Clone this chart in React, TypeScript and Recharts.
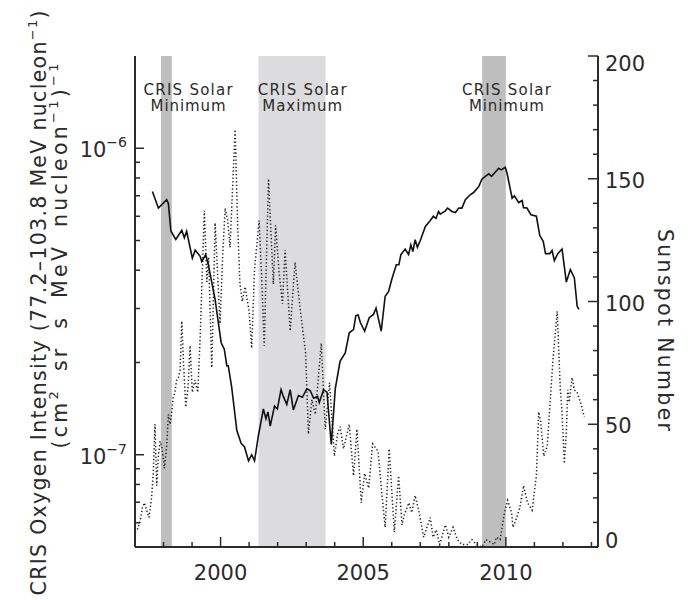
import React from 'react';
import { ComposedChart, Line, XAxis, YAxis, ReferenceArea, ReferenceLine } from 'recharts';

// CRIS oxygen intensity (solid, left log axis)
const FLUX_YEARS = [
  1997.61, 1997.82, 1998.11, 1998.17, 1998.26, 1998.43, 1998.64, 1998.73, 1998.81, 1999.01,
  1999.11, 1999.28, 1999.34, 1999.48, 1999.57, 1999.81, 2000.02, 2000.13, 2000.22, 2000.27,
  2000.39, 2000.57, 2000.72, 2000.84, 2000.98, 2001.09, 2001.19, 2001.33, 2001.5, 2001.59,
  2001.66, 2001.74, 2001.89, 2001.99, 2002.12, 2002.2, 2002.32, 2002.44, 2002.55, 2002.73,
  2002.87, 2003.02, 2003.14, 2003.26, 2003.4, 2003.46, 2003.61, 2003.73, 2003.88, 2004.02,
  2004.19, 2004.37, 2004.51, 2004.66, 2004.74, 2004.82, 2004.9, 2005.05, 2005.21, 2005.36,
  2005.45, 2005.63, 2005.77, 2005.89, 2006.0, 2006.16, 2006.25, 2006.32, 2006.47, 2006.59,
  2006.67, 2006.74, 2006.82, 2006.9, 2007.0, 2007.18, 2007.35, 2007.46, 2007.55, 2007.64,
  2007.7, 2007.88, 2007.96, 2008.11, 2008.23, 2008.35, 2008.46, 2008.58, 2008.75, 2008.87,
  2009.05, 2009.16, 2009.28, 2009.4, 2009.5, 2009.75, 2009.84, 2009.98, 2010.04, 2010.22,
  2010.3, 2010.45, 2010.57, 2010.62, 2010.74, 2010.88, 2011.07, 2011.19, 2011.31, 2011.39,
  2011.54, 2011.62, 2011.7, 2011.82, 2011.97, 2012.12, 2012.26, 2012.4, 2012.5, 2012.56,
];
const FLUX_VALUES = [
  7.23e-7, 6.38e-7, 6.8e-7, 6.6e-7, 5.36e-7, 5.04e-7, 5.4e-7, 5.1e-7, 5.36e-7, 4.38e-7,
  4.65e-7, 4.45e-7, 4.27e-7, 4.5e-7, 4.17e-7, 3.2e-7, 2.32e-7, 2.21e-7, 1.95e-7, 1.95e-7,
  1.66e-7, 1.2e-7, 1.09e-7, 1.06e-7, 9.55e-8, 1.0e-7, 9.55e-8, 1.16e-7, 1.41e-7, 1.31e-7,
  1.38e-7, 1.24e-7, 1.44e-7, 1.41e-7, 1.63e-7, 1.55e-7, 1.46e-7, 1.63e-7, 1.4e-7, 1.56e-7,
  1.54e-7, 1.64e-7, 1.62e-7, 1.53e-7, 1.55e-7, 1.48e-7, 1.63e-7, 1.6e-7, 1.08e-7, 1.64e-7,
  2.02e-7, 2.15e-7, 2.5e-7, 2.56e-7, 2.84e-7, 2.86e-7, 2.7e-7, 2.53e-7, 2.8e-7, 2.87e-7,
  3.01e-7, 2.53e-7, 3.29e-7, 3.41e-7, 3.73e-7, 4.17e-7, 4.17e-7, 4.5e-7, 4.69e-7, 4.5e-7,
  4.84e-7, 4.6e-7, 5.03e-7, 4.75e-7, 5.0e-7, 5.56e-7, 5.81e-7, 6.0e-7, 5.9e-7, 6.22e-7,
  6.1e-7, 6.25e-7, 6.38e-7, 6.22e-7, 6.17e-7, 6.38e-7, 6.38e-7, 6.8e-7, 7.05e-7, 7.17e-7,
  7.5e-7, 7.93e-7, 8.09e-7, 8.25e-7, 8.1e-7, 8.6e-7, 8.5e-7, 8.67e-7, 8.3e-7, 6.87e-7,
  7.0e-7, 6.65e-7, 6.75e-7, 6.4e-7, 6.38e-7, 6.07e-7, 6.0e-7, 5.19e-7, 4.97e-7, 4.53e-7,
  4.53e-7, 4.64e-7, 4.3e-7, 4.53e-7, 4.69e-7, 3.66e-7, 4.02e-7, 3.78e-7, 3.05e-7, 2.98e-7,
];

// monthly sunspot number (dotted, right axis)
const SSN_YEARS = [
  1997.0, 1997.08, 1997.17, 1997.26, 1997.33, 1997.41, 1997.49, 1997.58, 1997.64, 1997.7,
  1997.76, 1997.82, 1997.88, 1997.94, 1998.03, 1998.11, 1998.17, 1998.23, 1998.29, 1998.34,
  1998.4, 1998.46, 1998.52, 1998.58, 1998.64, 1998.7, 1998.78, 1998.86, 1998.93, 1999.01,
  1999.1, 1999.2, 1999.28, 1999.43, 1999.52, 1999.58, 1999.69, 1999.81, 1999.98, 2000.08,
  2000.16, 2000.25, 2000.33, 2000.51, 2000.6, 2000.68, 2000.76, 2000.86, 2001.0, 2001.09,
  2001.19, 2001.35, 2001.44, 2001.53, 2001.68, 2001.85, 2001.93, 2002.05, 2002.17, 2002.26,
  2002.44, 2002.61, 2002.79, 2002.98, 2003.08, 2003.2, 2003.32, 2003.53, 2003.67, 2003.82,
  2003.99, 2004.1, 2004.19, 2004.31, 2004.51, 2004.66, 2004.78, 2004.93, 2005.05, 2005.19,
  2005.33, 2005.52, 2005.65, 2005.77, 2005.91, 2006.09, 2006.24, 2006.36, 2006.44, 2006.6,
  2006.7, 2006.82, 2006.96, 2007.12, 2007.29, 2007.35, 2007.45, 2007.56, 2007.68, 2007.88,
  2008.0, 2008.15, 2008.3, 2008.46, 2008.66, 2008.81, 2008.98, 2009.16, 2009.3, 2009.46,
  2009.6, 2009.67, 2009.8, 2009.95, 2010.06, 2010.2, 2010.25, 2010.38, 2010.49, 2010.62,
  2010.76, 2010.92, 2011.07, 2011.15, 2011.22, 2011.33, 2011.45, 2011.65, 2011.8, 2011.91,
  2011.97, 2012.05, 2012.12, 2012.17, 2012.22, 2012.32, 2012.4, 2012.5, 2012.64, 2012.75,
];
const SSN_VALUES = [
  6, 7, 10, 16, 18, 15, 12, 20, 30, 50,
  25, 37, 43, 41, 32, 41, 54, 50, 55, 61,
  63, 68, 69, 72, 92, 75, 57, 65, 82, 63,
  68, 63, 84, 137, 108, 118, 73, 132, 91, 120,
  138, 133, 122, 170, 130, 107, 100, 106, 96, 81,
  113, 133, 110, 82, 150, 107, 131, 112, 99, 121,
  88, 116, 97, 79, 46, 60, 54, 83, 48, 67,
  37, 46, 49, 40, 50, 29, 48, 18, 30, 24,
  42, 39, 22, 8, 40, 6, 29, 9, 13, 18,
  14, 21, 14, 4, 10, 12, 4, 7, 1, 9,
  4, 8, 3, 1, 1, 3, 1, 0, 3, 2,
  1, 4, 3, 14, 19, 14, 8, 12, 16, 25,
  18, 15, 29, 55, 51, 37, 41, 76, 96, 64,
  55, 34, 47, 64, 59, 69, 64, 63, 58, 53,
];

// shaded CRIS solar minimum / maximum periods
const BAND_STARTS = [1997.91, 2001.33, 2009.17];
const BAND_ENDS = [1998.29, 2003.68, 2010.0];
const BAND_KINDS = ['min', 'max', 'min'];
const BAND_TEXT_YEARS = [1998.86, 2002.86, 2010.02];
const BAND_TEXT_TOP = ['CRIS  Solar', 'CRIS  Solar', 'CRIS  Solar'];
const BAND_TEXT_BOTTOM = ['Minimum', 'Maximum', 'Minimum'];

const YEAR_TICKS = [1998, 1999, 2000, 2001, 2002, 2003, 2004, 2005, 2006, 2007, 2008, 2009, 2010, 2011, 2012, 2013];
const FLUX_TICKS = [
  6e-8, 7e-8, 8e-8, 9e-8, 1e-7, 2e-7, 3e-7, 4e-7, 5e-7, 6e-7, 7e-7, 8e-7, 9e-7, 1e-6,
];
const SSN_TICKS = [0, 10, 20, 30, 40, 50, 60, 70, 80, 90, 100, 110, 120, 130, 140, 150, 160, 170, 180, 190, 200];

const fluxData = FLUX_YEARS.map((year, i) => ({ year, flux: FLUX_VALUES[i] }));
const ssnData = SSN_YEARS.map((year, i) => ({ year, ssn: SSN_VALUES[i] }));

const INK = '#2b2b2b';
const FONT = '"DejaVu Sans", sans-serif';

const BottomTick = ({ x, y, payload }: any) => {
  const major = payload.value % 5 === 0;
  return (
    <g>
      <line x1={x} x2={x} y1={y} y2={y - (major ? 10 : 5)} stroke={INK} strokeWidth={1.5} />
      {major && (
        <text x={x} y={y + 33} textAnchor="middle" fill={INK} fontFamily={FONT} fontSize={21}>
          {payload.value}
        </text>
      )}
    </g>
  );
};

const TopTick = ({ x, y, payload }: any) => {
  const major = payload.value % 5 === 0;
  return <line x1={x} x2={x} y1={y} y2={y + (major ? 10 : 5)} stroke={INK} strokeWidth={1.5} />;
};

const FluxTick = ({ x, y, payload }: any) => {
  const lg = Math.log10(payload.value);
  const exp = Math.round(lg);
  const decade = Math.abs(lg - exp) < 1e-6;
  return (
    <g>
      <line x1={x} x2={x + (decade ? 9 : 5)} y1={y} y2={y} stroke={INK} strokeWidth={1.5} />
      {decade && (
        <text x={x - 8} y={y + 9} textAnchor="end" fill={INK} fontFamily={FONT} fontSize={21}>
          10
          <tspan dy={-10} fontSize={14}>{`\u2212${-exp}`}</tspan>
        </text>
      )}
    </g>
  );
};

const SsnTick = ({ x, y, payload }: any) => {
  const v = payload.value;
  const major = v % 50 === 0;
  const dy = v === 0 ? 1 : v === 200 ? 15 : 9;
  return (
    <g>
      <line x1={x} x2={x - (major ? 10 : 5)} y1={y} y2={y} stroke={INK} strokeWidth={1.5} />
      {major && (
        <text x={x + 7} y={y + dy} textAnchor="start" fill={INK} fontFamily={FONT} fontSize={21}>
          {v}
        </text>
      )}
    </g>
  );
};

const LeftTitle = ({ viewBox }: any) => {
  const x = viewBox.x;
  return (
    <g fill={INK} fontFamily={FONT} fontSize={20.5}>
      <text transform={`translate(${x + 46},303) rotate(-90)`} textAnchor="middle" textLength={585} lengthAdjust="spacing">
        CRIS Oxygen Intensity (77.2–103.8 MeV nucleon
        <tspan dy={-9} fontSize={13}>−1</tspan>
        <tspan dy={9}>)</tspan>
      </text>
      <text
        transform={`translate(${x + 67},256) rotate(-90)`}
        textAnchor="middle"
        textLength={385}
        lengthAdjust="spacing"
        style={{ wordSpacing: 7 }}
      >
        (cm
        <tspan dy={-9} fontSize={13}>2</tspan>
        <tspan dy={9}> sr s MeV nucleon</tspan>
        <tspan dy={-9} fontSize={13}>−1</tspan>
        <tspan dy={9}>)</tspan>
        <tspan dy={-9} fontSize={13}>−1</tspan>
      </text>
    </g>
  );
};

const RightTitle = ({ viewBox }: any) => (
  <text
    transform={`translate(${viewBox.x + 60},330) rotate(90)`}
    textAnchor="middle"
    fill={INK}
    fontFamily={FONT}
    fontSize={20.5}
    textLength={202}
    lengthAdjust="spacing"
  >
    Sunspot Number
  </text>
);

const BAND_TEXT_WIDTHS: Record<string, number> = { 'CRIS  Solar': 89, Minimum: 75, Maximum: 80 };

const bandText = (i: number) => ({ viewBox }: any) => (
  <g fill={INK} fontFamily={FONT} fontSize={15} textAnchor="middle" style={{ whiteSpace: 'pre' }}>
    <text x={viewBox.x} y={viewBox.y + 38.5} textLength={BAND_TEXT_WIDTHS[BAND_TEXT_TOP[i]]} lengthAdjust="spacing">
      {BAND_TEXT_TOP[i]}
    </text>
    <text x={viewBox.x} y={viewBox.y + 55} textLength={BAND_TEXT_WIDTHS[BAND_TEXT_BOTTOM[i]]} lengthAdjust="spacing">
      {BAND_TEXT_BOTTOM[i]}
    </text>
  </g>
);

const App: React.FC = () => {
  return (
    <div style={{ position: 'absolute', left: 0, top: 0, width: 691, height: 600, background: '#fff' }}>
      <ComposedChart width={691} height={600} margin={{ top: 56, right: 0, bottom: 0, left: 0 }}>
        <XAxis
          type="number"
          dataKey="year"
          domain={[1997, 2013.23]}
          allowDataOverflow
          ticks={YEAR_TICKS}
          interval={0}
          height={53}
          tickSize={0}
          tickMargin={0}
          tickLine={false}
          tick={<BottomTick />}
          axisLine={{ stroke: INK, strokeWidth: 2 }}
        />
        <XAxis
          xAxisId="top"
          orientation="top"
          type="number"
          dataKey="year"
          domain={[1997, 2013.23]}
          allowDataOverflow
          ticks={YEAR_TICKS}
          interval={0}
          height={0}
          tickSize={0}
          tickMargin={0}
          tickLine={false}
          tick={<TopTick />}
          axisLine={{ stroke: INK, strokeWidth: 2 }}
        />
        <YAxis
          yAxisId="flux"
          orientation="left"
          scale="log"
          domain={[5e-8, 2e-6]}
          allowDataOverflow
          ticks={FLUX_TICKS}
          interval={0}
          width={135}
          tickSize={0}
          tickMargin={0}
          tickLine={false}
          tick={<FluxTick />}
          axisLine={{ stroke: INK, strokeWidth: 2 }}
          label={{ content: LeftTitle }}
        />
        <YAxis
          yAxisId="ssn"
          orientation="right"
          domain={[0, 200]}
          allowDataOverflow
          ticks={SSN_TICKS}
          interval={0}
          width={93}
          tickSize={0}
          tickMargin={0}
          tickLine={false}
          tick={<SsnTick />}
          axisLine={{ stroke: INK, strokeWidth: 2 }}
          label={{ content: RightTitle }}
        />
        {BAND_STARTS.map((s, i) => (
          <ReferenceArea
            key={`band-${i}`}
            yAxisId="ssn"
            x1={s}
            x2={BAND_ENDS[i]}
            fill={BAND_KINDS[i] === 'min' ? '#bebebf' : '#dcdcde'}
            fillOpacity={1}
            stroke="none"
          />
        ))}
        {BAND_TEXT_YEARS.map((yr, i) => (
          <ReferenceLine key={`txt-${i}`} yAxisId="ssn" x={yr} stroke="none" label={{ content: bandText(i) }} />
        ))}
        <Line
          yAxisId="ssn"
          data={ssnData}
          dataKey="ssn"
          type="linear"
          stroke="#222"
          strokeWidth={1.5}
          strokeDasharray="1.3 2.3"
          dot={false}
          activeDot={false}
          isAnimationActive={false}
        />
        <Line
          yAxisId="flux"
          data={fluxData}
          dataKey="flux"
          type="linear"
          stroke="#111"
          strokeWidth={1.6}
          dot={false}
          activeDot={false}
          isAnimationActive={false}
        />
      </ComposedChart>
    </div>
  );
};

export default App;
